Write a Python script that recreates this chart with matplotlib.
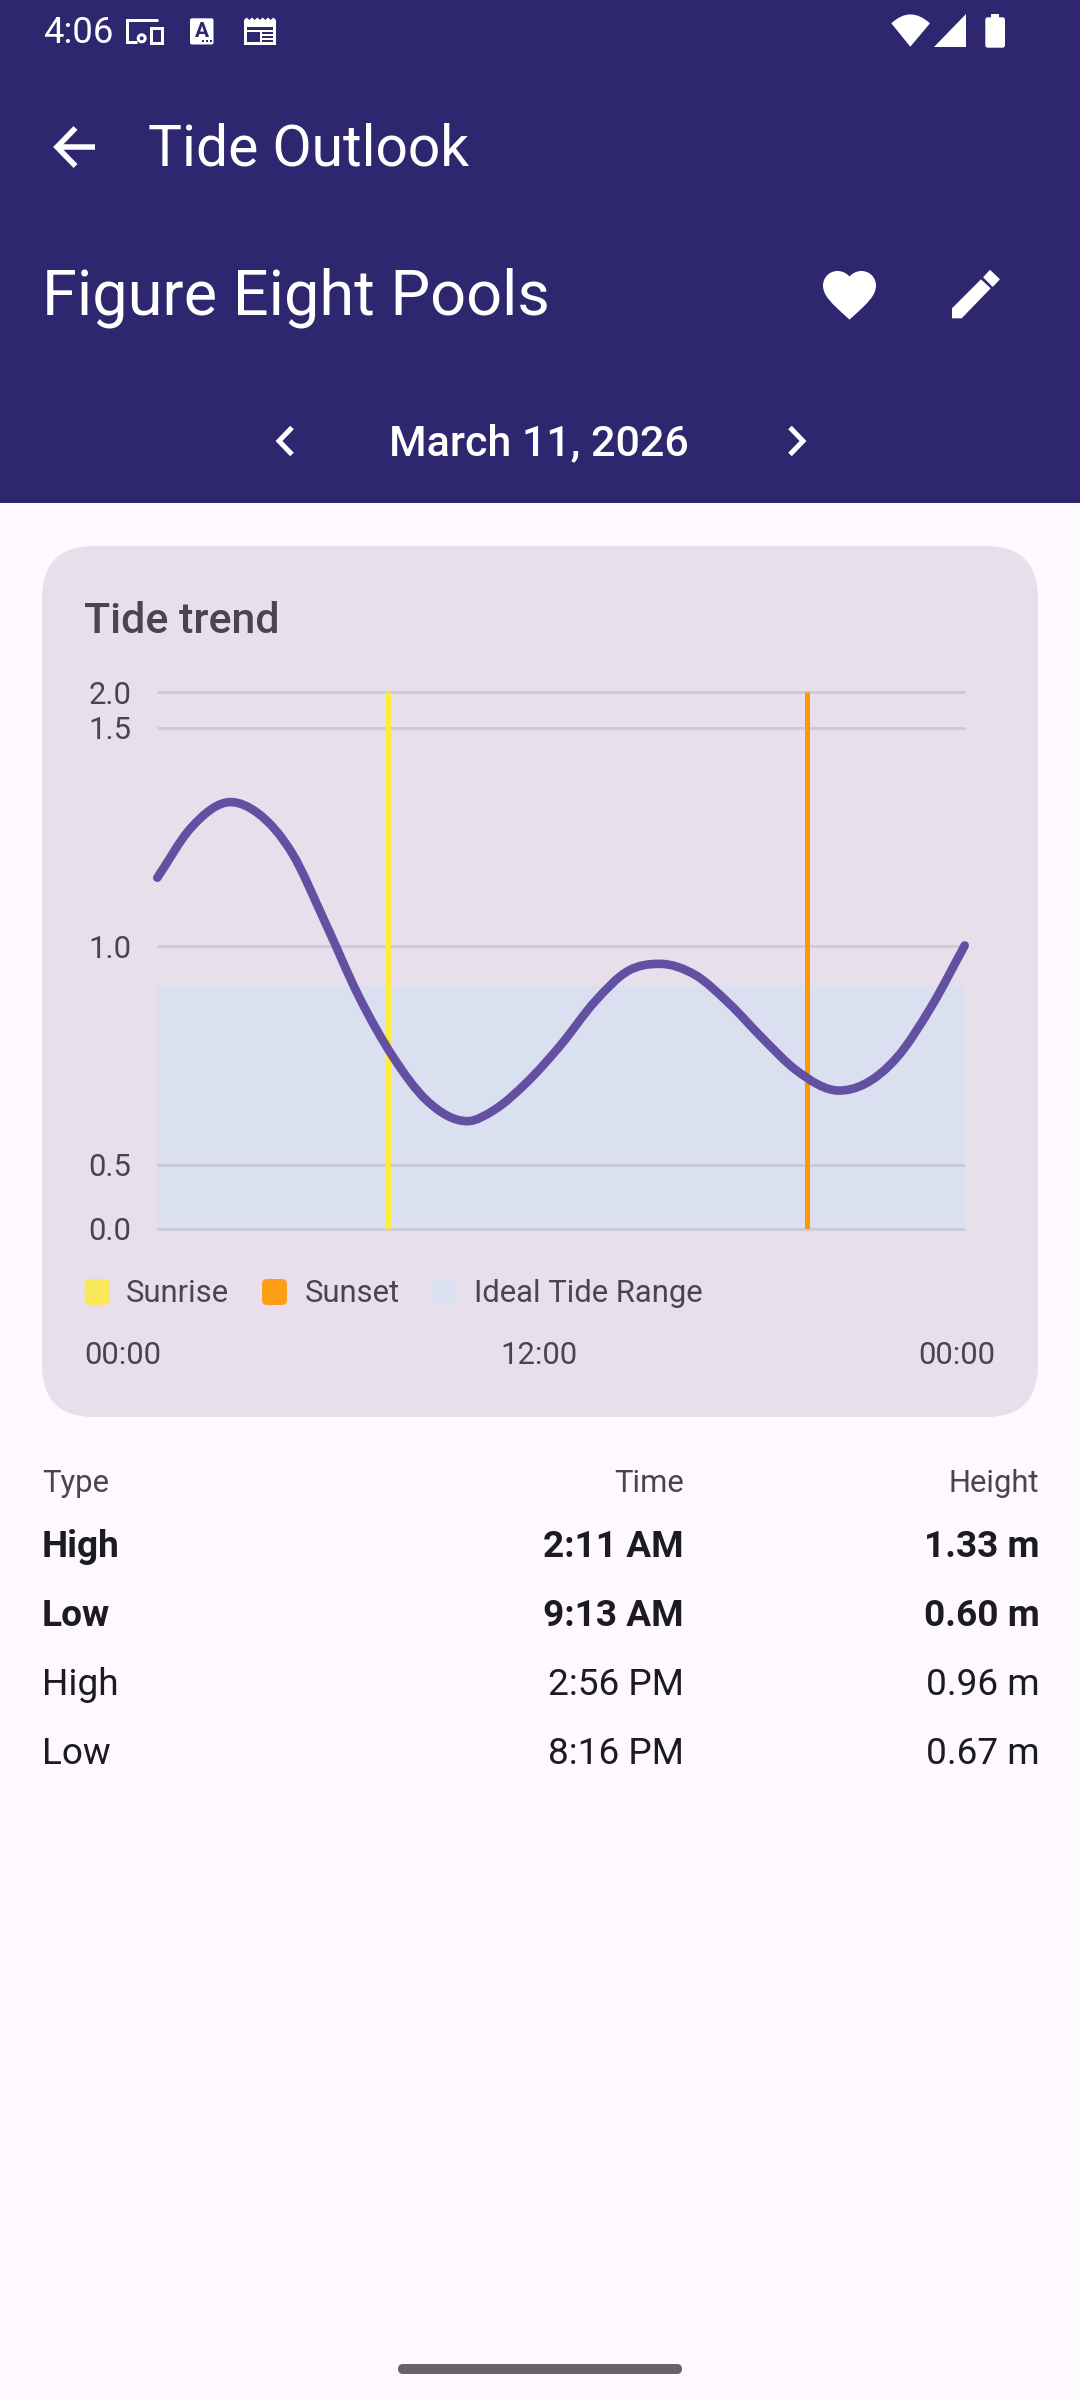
import numpy as np
import matplotlib
matplotlib.use("Agg")
import matplotlib.pyplot as plt
from matplotlib.path import Path
from matplotlib.patches import PathPatch, FancyBboxPatch, Rectangle, Polygon, Circle

plt.rcParams['font.family'] = ['Roboto', 'DejaVu Sans']

# tide curve, hours since midnight / metres
hours = [0, 1, 2.18, 3, 4, 5, 6, 7, 8, 9.22, 10, 11, 12, 13, 14, 14.93, 16, 17, 18, 19, 20.27, 21, 22, 23, 24]
heights = [1.157, 1.271, 1.33, 1.304, 1.214, 1.053, 0.884, 0.748, 0.648, 0.60, 0.625, 0.690, 0.775, 0.873,
           0.944, 0.96, 0.934, 0.869, 0.789, 0.716, 0.67, 0.684, 0.747, 0.861, 1.002]
sunrise_hour = 6.85
sunset_hour = 19.32
ideal_top = 0.91

# y axis labels are not evenly spaced in the app, 0.0 and 2.0 sit just outside the data
y_ticks = [0.0, 0.5, 1.0, 1.5, 2.0]
y_tick_labels = ['0.0', '0.5', '1.0', '1.5', '2.0']
y_tick_true = [0.354, 0.5, 1.0, 1.5, 1.581]

x_labels = ['00:00', '12:00', '00:00']
legend_labels = ['Sunrise', 'Sunset', 'Ideal Tide Range']

table_head = ['Type', 'Time', 'Height']
tide_type = ['High', 'Low', 'High', 'Low']
tide_time = ['2:11 AM', '9:13 AM', '2:56 PM', '8:16 PM']
tide_height = ['1.33 m', '0.60 m', '0.96 m', '0.67 m']
tide_bold = [True, True, False, False]

HEADER = '#2E2770'
PAGE = '#FEF8FF'
CARD = '#E7E0EC'
BAND = '#DAE0F0'
YELLOW = '#FFEB3B'
ORANGE = '#FF9800'
CURVE = '#6350A2'
DARK = '#1C1B1F'
MUTED = '#49454F'
W = 1080
H = 2400

fig = plt.figure(figsize=(W / 100, H / 100), dpi=100, facecolor=PAGE)

# overlay in pixel coordinates for the app chrome
ui = fig.add_axes([0, 0, 1, 1])
ui.set_xlim(0, W)
ui.set_ylim(H, 0)
ui.axis('off')


def px(size):
    return size * 0.72


def label(x, y, s, size, color='white', ha='left', weight='normal'):
    ui.text(x, y, s, fontsize=px(size), color=color, ha=ha, va='baseline', fontweight=weight)


def rounded(x0, y0, x1, y1, r, color):
    ui.add_patch(FancyBboxPatch((x0, y0), x1 - x0, y1 - y0, boxstyle='round,pad=0,rounding_size=%g' % r,
                                fc=color, ec='none'))


def stroke(points, width, color='white', cap='round'):
    xs, ys = zip(*points)
    ui.plot(xs, ys, color=color, lw=px(width), solid_capstyle=cap, solid_joinstyle='miter')


ui.add_patch(Rectangle((0, 0), W, 503, fc=HEADER, ec='none'))
rounded(42, 546, 1038, 1417, 52, CARD)

# status bar
label(43, 43, '4:06', 36.5)
stroke([(158, 19.5), (127, 19.5), (127, 41.5), (137, 41.5)], 3, cap='butt')
ui.add_patch(Rectangle((151, 27.5), 10.5, 15, fc='none', ec='white', lw=px(3)))
ui.add_patch(Circle((141.7, 38.3), 3.5, fc='none', ec='white', lw=px(3)))
rounded(190, 18.3, 213.5, 44.5, 2, 'white')
ui.text(201.5, 37, 'A', fontsize=px(21), color=HEADER, ha='center', va='baseline', fontweight='bold')
for dot_x in [203, 207, 211]:
    ui.add_patch(Rectangle((dot_x - 1, 40), 2, 2, fc=HEADER, ec='none'))
teeth = [(244 + i * 32 / 12, 17.5 if i % 2 else 20) for i in range(13)]
ui.add_patch(Polygon(teeth + [(276, 45), (244, 45)], fc='white', ec='none'))
ui.add_patch(Rectangle((247, 27), 26, 2.5, fc=HEADER, ec='none'))
ui.add_patch(Rectangle((247, 32), 12.5, 10, fc=HEADER, ec='none'))
for line_y in [32, 36, 40]:
    ui.add_patch(Rectangle((262, line_y), 11, 2, fc=HEADER, ec='none'))

wifi = Path([(910.3, 46.7), (891.3, 23.3), (910.3, 5.5), (930, 23.3), (910.3, 46.7)],
            [Path.MOVETO, Path.LINETO, Path.CURVE3, Path.CURVE3, Path.LINETO])
ui.add_patch(PathPatch(wifi, fc='white', ec='none'))
ui.add_patch(Polygon([(934, 46.7), (966, 46.7), (966, 14.3)], fc='white', ec='none'))
rounded(985.3, 17.3, 1005, 47.7, 2.5, 'white')
ui.add_patch(Rectangle((991, 14.3), 8.3, 4, fc='white', ec='none'))

# title rows
stroke([(58.5, 147), (94.5, 147)], 5.5, cap='butt')
stroke([(75.5, 128), (57, 147), (75.5, 166)], 5.5, cap='butt')
label(148, 166, 'Tide Outlook', 57)
label(42, 315, 'Figure Eight Pools', 63)

# heart icon, 24 unit material outline scaled up
heart_units = [(12, 21.35), (10.55, 20.03), (5.4, 15.36), (2, 12.28), (2, 8.5), (2, 5.42), (4.42, 3), (7.5, 3),
               (9.24, 3), (10.91, 3.81), (12, 5.09), (13.09, 3.81), (14.76, 3), (16.5, 3), (19.58, 3), (22, 5.42),
               (22, 8.5), (22, 12.28), (18.6, 15.36), (13.45, 20.04), (12, 21.35)]
heart_codes = [Path.MOVETO, Path.LINETO] + [Path.CURVE4] * 18 + [Path.LINETO]
heart_px = [(823 + (u - 2) * 2.65, 271 + (v - 3) * 2.65) for u, v in heart_units]
ui.add_patch(PathPatch(Path(heart_px, heart_codes), fc='white', ec='none'))
ui.add_patch(Polygon([(952, 318.3), (952, 308.3), (981, 279.3), (990.7, 288.3), (961.7, 318.3)], fc='white', ec='none'))
ui.add_patch(Polygon([(990, 270.7), (999, 279.3), (992.7, 286), (984, 277.3)], fc='white', ec='white', lw=1, joinstyle='round'))

stroke([(292, 427.5), (279, 441), (292, 454.5)], 5, cap='butt')
stroke([(790, 427.5), (803, 441), (790, 454.5)], 5, cap='butt')
label(539, 455, 'March 11, 2026', 43, ha='center', weight=500)

label(84, 633, 'Tide trend', 43, color=MUTED, weight=500)

# chart
left, right, top, bottom = 157.3, 964.7, 692.4, 1228.7
ax = fig.add_axes([left / W, 1 - bottom / H, (right - left) / W, (bottom - top) / H])
ax.patch.set_alpha(0)
ax.set_yscale('function', functions=(lambda v: np.interp(v, y_ticks, y_tick_true),
                                     lambda v: np.interp(v, y_tick_true, y_ticks)))
ax.set_xlim(0, 24)
ax.set_ylim(0, 2)
ax.set_yticks(y_ticks)
ax.set_yticklabels(y_tick_labels)
ax.set_xticks([])
ax.minorticks_off()
ax.tick_params(axis='y', length=0, pad=18.5, labelsize=px(31), labelcolor=MUTED)
for spine in ax.spines.values():
    spine.set_visible(False)
ax.set_axisbelow('line')
ax.grid(axis='y', color='#79747E', alpha=0.2, lw=px(3))
for grid_line in ax.get_ygridlines():
    grid_line.set_clip_on(False)
    grid_line.set_solid_capstyle('butt')

ax.axhspan(0, ideal_top, fc=BAND, ec='none', zorder=1)
ax.axvline(sunrise_hour, color=YELLOW, lw=px(5), zorder=2, solid_capstyle='butt')
ax.axvline(sunset_hour, color=ORANGE, lw=px(5), zorder=2, solid_capstyle='butt')

# the app smooths its line, so the points are joined by bezier segments
x = np.array(hours)
y = np.array(heights)
slopes = np.gradient(y, x)
turning = np.where(np.diff(y[:-1]) * np.diff(y[1:]) < 0)[0] + 1
slopes[turning] = 0
verts = [(x[0], y[0])]
codes = [Path.MOVETO]
for i in range(len(x) - 1):
    step = (x[i + 1] - x[i]) / 3
    verts += [(x[i] + step, y[i] + slopes[i] * step), (x[i + 1] - step, y[i + 1] - slopes[i + 1] * step), (x[i + 1], y[i + 1])]
    codes += [Path.CURVE4, Path.CURVE4, Path.CURVE4]
ax.add_patch(PathPatch(Path(verts, codes), fc='none', ec=CURVE, lw=px(8.6), capstyle='round', joinstyle='round',
                       zorder=3, clip_on=False))

# legend row
for s, x0, tx, color in zip(legend_labels, [84.6, 262, 431.6], [126, 304.7, 473.7], [YELLOW + 'D0', ORANGE + 'E8', BAND]):
    rounded(x0, 1279, x0 + 25, 1305, 5, color)
    label(tx, 1302, s, 31, color=MUTED)

label(84, 1364, x_labels[0], 31, color=MUTED)
label(539, 1364, x_labels[1], 31, color=MUTED, ha='center')
label(995, 1364, x_labels[2], 31, color=MUTED, ha='right')

# table under the card
label(42, 1491.5, table_head[0], 31, color=MUTED)
label(683.5, 1491.5, table_head[1], 31, color=MUTED, ha='right')
label(1039, 1491.5, table_head[2], 31, color=MUTED, ha='right')
for row_y, kind, at, height, bold in zip([1557, 1626, 1695, 1763.5], tide_type, tide_time, tide_height, tide_bold):
    w = 'bold' if bold else 'normal'
    label(42, row_y, kind, 37, color=DARK, weight=w)
    label(683.5, row_y, at, 37, color=DARK, ha='right', weight=w)
    label(1040, row_y, height, 37, color=DARK, ha='right', weight=w)

rounded(398, 2364, 682, 2374, 5, '#656368')

fig.savefig('out.png', dpi=100, facecolor=PAGE)
